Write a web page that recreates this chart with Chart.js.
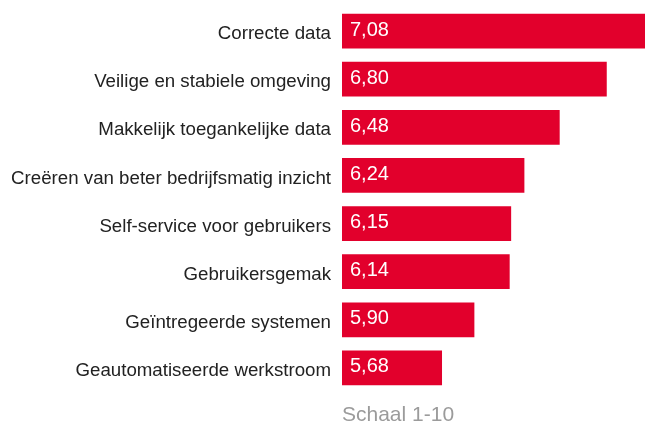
<!DOCTYPE html>
<html>
<head>
<meta charset="utf-8">
<script src="https://cdn.jsdelivr.net/npm/chart.js@4/dist/chart.umd.min.js"></script>
<style>
html,body{margin:0;padding:0;background:#fff;}
#wrap{width:645px;height:426px;position:relative;}
</style>
</head>
<body>
<div id="wrap"><canvas id="c" width="645" height="426"></canvas></div>
<script>
const categories = [
  "Correcte data",
  "Veilige en stabiele omgeving",
  "Makkelijk toegankelijke data",
  "Creëren van beter bedrijfsmatig inzicht",
  "Self-service voor gebruikers",
  "Gebruikersgemak",
  "Geïntregeerde systemen",
  "Geautomatiseerde werkstroom"
];
const scores = [7.08, 6.80, 6.48, 6.24, 6.15, 6.14, 5.90, 5.68];
const axisTitle = "Schaal 1-10";

const FONT = "'Liberation Sans', Arial, Helvetica, sans-serif";

const valueLabels = {
  id: 'valueLabels',
  afterDatasetsDraw(chart) {
    const ctx = chart.ctx;
    const meta = chart.getDatasetMeta(0);
    const left = chart.chartArea.left;
    ctx.save();
    ctx.fillStyle = '#ffffff';
    ctx.font = '20px ' + FONT;
    ctx.textAlign = 'left';
    ctx.textBaseline = 'middle';
    meta.data.forEach((bar, i) => {
      const txt = scores[i].toFixed(2).replace('.', ',');
      ctx.fillText(txt, left + 8, bar.y - 1);
    });
    ctx.restore();
  }
};

new Chart(document.getElementById('c'), {
  type: 'bar',
  data: {
    labels: categories,
    datasets: [{
      data: scores,
      backgroundColor: '#E2002C',
      borderWidth: 0,
      barPercentage: 0.72,
      categoryPercentage: 1.0
    }]
  },
  options: {
    indexAxis: 'y',
    responsive: false,
    animation: false,
    layout: { padding: { top: 7, right: 0, left: 0, bottom: 0 } },
    plugins: { legend: { display: false }, tooltip: { enabled: false } },
    scales: {
      x: {
        min: 5,
        max: 7.06,
        grid: { display: false, drawTicks: false },
        border: { display: false },
        ticks: { display: false },
        title: {
          display: true,
          text: axisTitle,
          align: 'start',
          color: '#9b9b9b',
          font: { family: FONT, size: 21, lineHeight: 1.0 },
          padding: { top: 0, bottom: 0 }
        },
        afterFit(scale) { scale.height = 34; scale.paddingLeft = 0; scale.paddingRight = 0; }
      },
      y: {
        grid: { display: false, drawTicks: false },
        border: { display: false },
        ticks: {
          color: '#222222',
          padding: 11,
          font: { family: FONT, size: 18.7, lineHeight: '6px' },
          callback: function (value, index) { return ['', this.getLabelForValue(value)]; }
        },
        afterFit(scale) { scale.width = 342; scale.paddingTop = 0; scale.paddingBottom = 0; }
      }
    }
  },
  plugins: [valueLabels]
});
</script>
</body>
</html>
